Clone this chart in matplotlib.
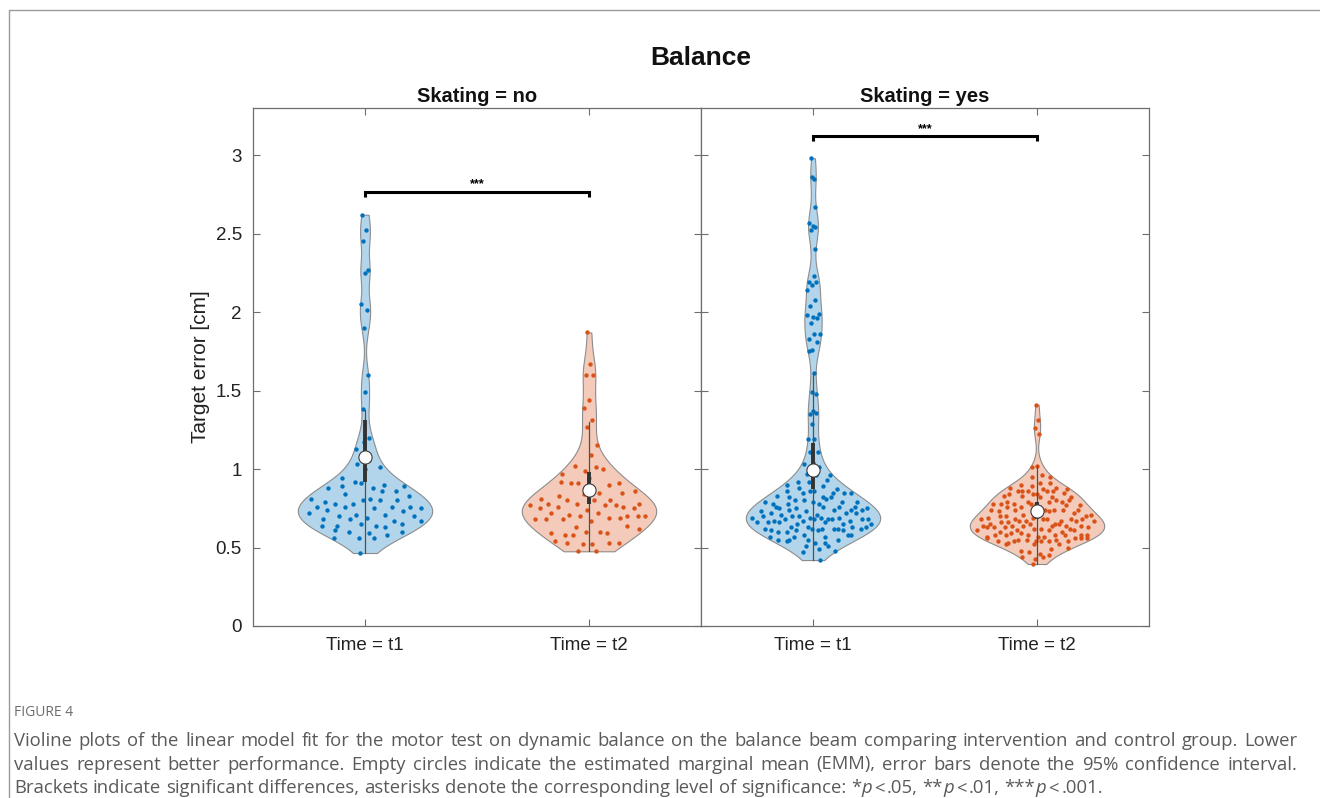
import matplotlib
matplotlib.use('Agg')
import matplotlib.pyplot as plt
from matplotlib.lines import Line2D
import numpy as np

plt.rcParams['font.family'] = ['Liberation Sans', 'DejaVu Sans']

# target error [cm]
no_t1 = [2.62, 2.52, 2.45, 2.27, 2.25, 2.05, 2.01, 1.90, 1.60, 1.49, 1.38, 1.20,
         1.17, 1.13, 1.06, 1.03, 1.01, 1.00, 0.94, 0.90, 0.92, 0.89, 0.88, 0.89,
         0.86, 0.91, 0.88, 0.86, 0.84, 0.83, 0.81, 0.79, 0.80, 0.78, 0.81, 0.80,
         0.78, 0.76, 0.80, 0.76, 0.76, 0.76, 0.75, 0.75, 0.74, 0.73, 0.71, 0.72,
         0.71, 0.70, 0.70, 0.69, 0.68, 0.67, 0.68, 0.67, 0.64, 0.64, 0.65, 0.65,
         0.64, 0.63, 0.60, 0.60, 0.59, 0.61, 0.58, 0.56, 0.56, 0.56, 0.465]
no_t2 = [1.87, 1.67, 1.60, 1.60, 1.44, 1.39, 1.31, 1.27, 1.15, 1.09, 1.02, 1.00,
         0.99, 0.97, 1.01, 0.91, 0.91, 0.94, 0.92, 0.90, 0.91, 0.86, 0.85, 0.83,
         0.85, 0.84, 0.81, 0.80, 0.80, 0.78, 0.80, 0.78, 0.76, 0.78, 0.77, 0.77,
         0.76, 0.75, 0.74, 0.75, 0.77, 0.71, 0.70, 0.72, 0.72, 0.70, 0.70, 0.68,
         0.69, 0.68, 0.70, 0.67, 0.68, 0.69, 0.63, 0.62, 0.60, 0.58, 0.64, 0.60,
         0.59, 0.59, 0.58, 0.53, 0.52, 0.53, 0.53, 0.52, 0.54, 0.48, 0.476]
yes_t1 = [2.98, 2.85, 2.86, 2.67, 2.55, 2.57, 2.54, 2.52, 2.40, 2.23, 2.19, 2.19,
          2.17, 2.14, 2.08, 2.04, 1.99, 1.97, 1.98, 1.96, 1.93, 1.86, 1.86, 1.83,
          1.81, 1.76, 1.75, 1.61, 1.49, 1.48,
          1.37, 1.35, 1.36, 1.29, 1.19, 1.19, 1.11, 1.11, 1.04, 1.03, 1.01, 0.97,
          0.96, 0.96, 0.92, 0.93, 0.92, 0.90, 0.89, 0.88, 0.85, 0.86, 0.86, 0.85,
          0.85, 0.85, 0.82, 0.82, 0.87, 0.86, 0.83, 0.82, 0.80, 0.79, 0.78, 0.76,
          0.79, 0.80, 0.79, 0.81, 0.78, 0.76, 0.79, 0.78, 0.76, 0.75, 0.75, 0.76,
          0.75, 0.74, 0.73, 0.73, 0.74, 0.74, 0.74, 0.71, 0.72, 0.72, 0.70, 0.69,
          0.68, 0.71, 0.72, 0.69, 0.70, 0.69, 0.70, 0.68, 0.69, 0.67, 0.67, 0.67,
          0.66, 0.68, 0.68, 0.68, 0.68, 0.66, 0.65, 0.65, 0.65, 0.66, 0.66, 0.63,
          0.63, 0.62, 0.62, 0.63, 0.62, 0.61, 0.60, 0.61, 0.58, 0.57, 0.57, 0.60,
          0.58, 0.62, 0.61, 0.62, 0.61, 0.63, 0.62, 0.55, 0.55, 0.55, 0.55, 0.53,
          0.57, 0.58, 0.53, 0.54, 0.51, 0.51, 0.48, 0.49, 0.47, 0.42]
yes_t2 = [1.41, 1.31, 1.26, 1.22, 1.02, 1.01, 0.96, 0.95, 0.95, 0.91, 0.90, 0.91,
          0.89, 0.88, 0.86, 0.86, 0.85, 0.84, 0.84, 0.86, 0.86, 0.87, 0.87, 0.86,
          0.88, 0.84, 0.83, 0.82, 0.83, 0.82, 0.82, 0.79, 0.79, 0.79, 0.78, 0.79,
          0.78, 0.80, 0.78, 0.78, 0.80, 0.76, 0.77, 0.74, 0.76, 0.77, 0.78, 0.74,
          0.74, 0.74, 0.74, 0.72, 0.73, 0.74, 0.71, 0.71, 0.73, 0.70, 0.72, 0.69,
          0.69, 0.67, 0.68, 0.70, 0.68, 0.70, 0.68, 0.67, 0.68, 0.65, 0.66, 0.68,
          0.70, 0.65, 0.64, 0.67, 0.67, 0.68, 0.66, 0.67, 0.65, 0.64, 0.65, 0.64,
          0.63, 0.62, 0.63, 0.62, 0.64, 0.61, 0.64, 0.63, 0.64, 0.62, 0.63, 0.60,
          0.61, 0.58, 0.57, 0.60, 0.61, 0.58, 0.57, 0.58, 0.59, 0.58, 0.57, 0.58,
          0.58, 0.59, 0.56, 0.61, 0.58, 0.54, 0.52, 0.54, 0.55, 0.55, 0.56, 0.54,
          0.53, 0.52, 0.55, 0.56, 0.54, 0.54, 0.56, 0.54, 0.52, 0.49, 0.47, 0.50,
          0.46, 0.48, 0.45, 0.43, 0.44, 0.44, 0.395]

groups = [[no_t1, no_t2], [yes_t1, yes_t2]]
panel_titles = ['Skating = no', 'Skating = yes']
time_labels = ['Time = t1', 'Time = t2']

# estimated marginal means with 95% CI, whisker tops  (no t1, no t2, yes t1, yes t2)
emm = [1.074, 0.866, 0.996, 0.730]
ci_lo = [0.915, 0.777, 0.871, 0.682]
ci_hi = [1.312, 0.981, 1.168, 0.788]
whisk_hi = [1.376, 1.301, 1.61, 1.019]
bracket_y = [2.766, 3.121]
stars = ['***', '***']

fill_cols = ['#b3d5eb', '#f4cbba']
dot_cols = ['#0072bd', '#d95319']

W, H = 1320, 798
fig = plt.figure(figsize=(W / 100, H / 100), dpi=100)


def violin_shape(d, width=0.3, npts=200):
    d = np.asarray(d)
    sig = np.median(np.abs(d - np.median(d))) / 0.6745
    bw = 1.1 * sig * (4 / (3 * len(d))) ** 0.2
    ys = np.linspace(d.min(), d.max(), npts)
    dens = np.exp(-0.5 * ((ys[:, None] - d[None, :]) / bw) ** 2).sum(1)
    return ys, dens / dens.max() * width


axes = []
for p in range(2):
    left = (253 + 448 * p) / W
    ax = fig.add_axes([left, 1 - 626 / H, 448 / W, 518 / H])
    axes.append(ax)
    for k, d in enumerate(groups[p]):
        pos = k + 1
        i = 2 * p + k
        ys, w = violin_shape(d)
        ax.fill_betweenx(ys, pos - w, pos + w, facecolor=fill_cols[k],
                         edgecolor='#8c8c8c', lw=0.8, zorder=1)
        d = np.asarray(d)
        n = len(d)
        # evenly spread horizontal offsets inside the violin
        jit = ((np.arange(n) * 0.6180339887) % 1) * 2 - 1
        xs = pos + 0.92 * jit * np.interp(d, ys, w)
        ax.scatter(xs, d, s=10, color=dot_cols[k], linewidths=0, zorder=2)
        ax.plot([pos, pos], [min(d), whisk_hi[i]], color='#505050', lw=0.9, zorder=3)
        ax.plot([pos, pos], [ci_lo[i], ci_hi[i]], color='#333333', lw=2.8,
                solid_capstyle='butt', zorder=4)
        ax.plot(pos, emm[i], 'o', ms=9.5, mfc='white', mec='#3a3a3a', mew=0.8, zorder=5)

    # significance bracket
    by = bracket_y[p]
    ax.plot([1, 1, 2, 2], [by - 0.03, by, by, by - 0.03], color='black', lw=2.2,
            solid_capstyle='butt', solid_joinstyle='miter', zorder=6)
    ax.text(1.5, by + 0.008, stars[p], ha='center', va='bottom', fontsize=9,
            fontweight='bold')

    ax.set_xlim(0.5, 2.5)
    ax.set_ylim(0, 3.3)
    ax.set_xticks([1, 2])
    ax.set_xticklabels(time_labels)
    ax.set_yticks([0, 0.5, 1, 1.5, 2, 2.5, 3])
    ax.set_yticklabels(['0', '0.5', '1', '1.5', '2', '2.5', '3'])
    ax.tick_params(direction='in', top=True, right=True, length=5, width=0.8,
                   color='#6e6e6e', labelcolor='#222222', labelsize=13.5, pad=8)
    if p == 1:
        ax.tick_params(labelleft=False)
    for s in ax.spines.values():
        s.set_color('#6e6e6e')
        s.set_linewidth(0.9)
    fig.text((253 + 448 * p + 224) / W, 1 - 97 / H, panel_titles[p], ha='center',
             va='center', fontsize=14.5, fontweight='bold', color='#111111')

fig.text(701 / W, 1 - 58 / H, 'Balance', ha='center', va='center', fontsize=19,
         fontweight='bold', color='#111111')
fig.text(200 / W, 1 - 367 / H, 'Target error [cm]', rotation=90, ha='center',
         va='center', fontsize=15, color='#222222')

# frame around the figure panel (top and left edges only)
fig.add_artist(Line2D([9 / W, 9 / W, 1], [0, 1 - 10 / H, 1 - 10 / H],
                      transform=fig.transFigure, color='#9a9a9a', lw=1))

# caption
cap_font = ['Open Sans', 'DejaVu Sans']
cap_kw = dict(fontsize=13.3, color='#5a5a5a', family=cap_font, va='center')
fig.text(14 / W, 1 - 713 / H, 'FIGURE 4', fontsize=10, color='#6d6d6d',
         family=cap_font, va='center')

cap_lines = [
    'Violine plots of the linear model fit for the motor test on dynamic balance on the '
    'balance beam comparing intervention and control group. Lower',
    'values represent better performance. Empty circles indicate the estimated marginal '
    'mean (EMM), error bars denote the 95% confidence interval.',
]
renderer = fig.canvas.get_renderer()
x0, x1 = 14, 1297
for li, line in enumerate(cap_lines):
    y = 1 - (741 + 23.5 * li) / H
    words = line.split(' ')
    texts = [fig.text(0, y, wd, **cap_kw) for wd in words]
    widths = [t.get_window_extent(renderer).width for t in texts]
    gap = (x1 - x0 - sum(widths)) / (len(words) - 1)
    x = x0
    for t, wd in zip(texts, widths):
        t.set_x(x / W)
        x += wd + gap

# last caption line, not justified, with italic p
probe = fig.text(0, 0, 'a a', **cap_kw)
probe2 = fig.text(0, 0, 'aa', **cap_kw)
space = probe.get_window_extent(renderer).width - probe2.get_window_extent(renderer).width
probe.remove()
probe2.remove()
tokens = [(wd, 'normal', space) for wd in
          'Brackets indicate significant differences, asterisks denote the corresponding '
          'level of significance:'.split(' ')]
for st, lv in [('*', '.05,'), ('**', '.01,'), ('***', '.001.')]:
    tokens += [(st, 'normal', 0), ('p', 'italic', space * 0.5), ('<', 'normal', space * 0.5),
               (lv, 'normal', space)]
y = 1 - (741 + 47) / H
x = x0
for wd, style, g in tokens:
    t = fig.text(x / W, y, wd, style=style, **cap_kw)
    x += t.get_window_extent(renderer).width + g

fig.savefig('out.png', dpi=100)
